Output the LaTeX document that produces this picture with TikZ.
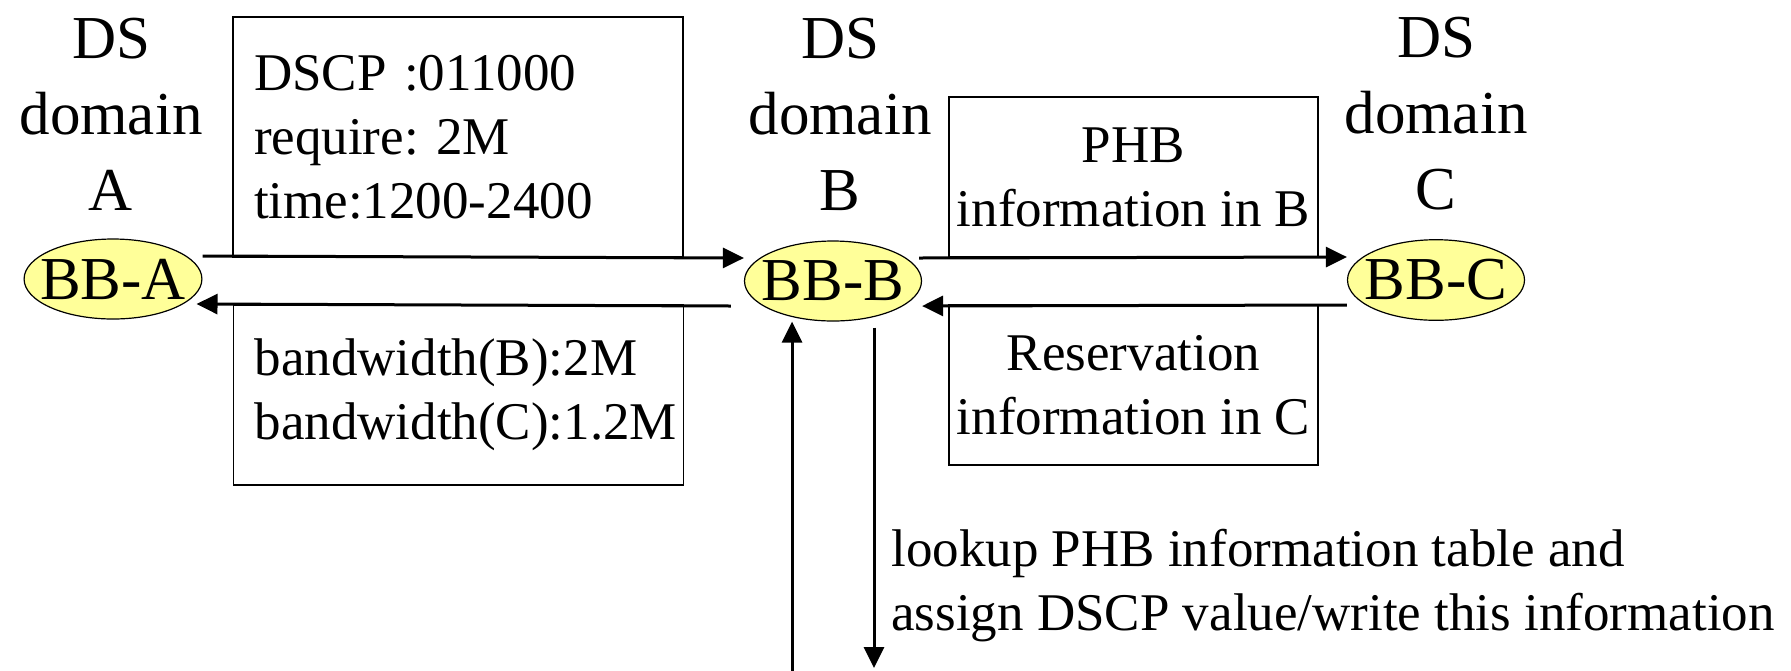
\documentclass[tikz,border=0pt]{standalone}
\usepackage{fontspec,xcolor,tikz}
\setmainfont{Liberation Serif}
\frenchspacing
\usetikzlibrary{arrows.meta,shapes.geometric,calc}
\definecolor{ink}{HTML}{000000}
\definecolor{bbgelb}{HTML}{FFFF99}
\newcommand{\gross}{\fontsize{30.5}{38}\selectfont}
\newcommand{\normal}{\fontsize{26.5}{32}\selectfont}
\tikzset{pfeil/.style={ink,line width=1.5pt,-{Triangle[length=10.5pt,width=10pt]}},
  bbknoten/.style={ellipse,draw=ink,line width=0.6pt,fill=bbgelb,inner xsep=-5pt,
    inner ysep=4pt,minimum width=88.5pt,minimum height=40pt,font=\gross},
  kasten/.style={draw=ink,line width=0.8pt,inner xsep=10.5pt,inner ysep=0,font=\normal},
  domlabel/.style={inner sep=0,align=center,text=ink,font=\gross}}
\begin{document}
\begin{tikzpicture}[x=0.5pt,y=-0.5pt]
\useasboundingbox (0,0) rectangle (1791,670);
\node[domlabel] (doma) at (111,114) {DS\\domain\\A};
\node[domlabel] (domb) at (840,114) {DS\\domain\\B};
\node[domlabel] (domc) at (1436,114) {DS\\domain\\C};
\node[bbknoten] (bba) at (113,279) {BB-A};
\node[bbknoten] (bbb) at (833,281) {BB-B};
\node[bbknoten] (bbc) at (1436,280) {BB-C};
\node[kasten,align=left,text width=204pt,minimum height=120pt] (anfrage) at (458,137)
  {DSCP :011000\\require: 2M\\time:1200-2400};
\node[kasten,align=left,text width=204pt,minimum height=90pt] (antwort) at (458.5,395)
  {bandwidth(B):2M\\bandwidth(C):1.2M};
\node[kasten,align=center,inner xsep=0pt,minimum width=184.5pt,minimum height=80pt] (phb) at (1133.5,177)
  {PHB\\information in B};
\node[kasten,align=center,inner xsep=0pt,minimum width=184.5pt,minimum height=80pt] (reserv) at (1133.5,385)
  {Reservation\\information in C};
\draw[pfeil] ([shift={(0,-23)}]bba.east) -- ([shift={(0,-23)}]bbb.west);
\draw[pfeil] ([shift={(-13,25)}]bbb.west) -- ([shift={(-6,25)}]bba.east);
\draw[pfeil] ([shift={(-3,-23)}]bbb.east) -- ([shift={(0,-23)}]bbc.west);
\draw[pfeil] ([shift={(0,25)}]bbc.west) -- ([shift={(0,25)}]bbb.east);
\coordinate (hoch) at (792,672);
\coordinate (runter) at (874,668);
\draw[pfeil] (hoch) -- (hoch |- bbb.south);
\draw[pfeil] ([yshift=-3pt]runter |- bbb.south) -- (runter);
\node[anchor=west,inner sep=0,align=left,text=ink,font=\normal] (lookup) at (891,586)
  {lookup PHB information table and\\assign DSCP value/write this information};
\end{tikzpicture}
\end{document}
